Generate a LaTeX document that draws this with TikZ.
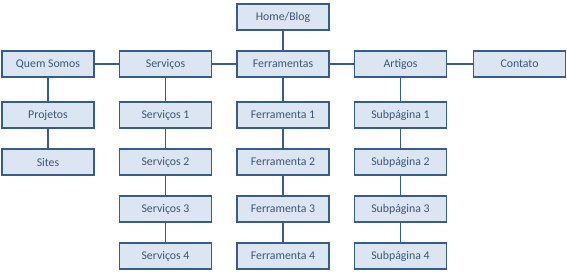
\documentclass[tikz,border=0pt]{standalone}
\usepackage{fontspec}
\setmainfont{Carlito}
\usepackage{xcolor}
\definecolor{boxfill}{RGB}{220,230,242}
\definecolor{boxline}{RGB}{56,93,138}
\definecolor{boxtext}{RGB}{58,86,122}
\tikzset{
    page/.style={draw=boxline, fill=boxfill, line width=1.8pt,
        minimum width=92pt, minimum height=26.5pt, inner sep=0pt,
        text=boxtext, font=\fontsize{11.8}{13}\selectfont},
    link/.style={draw=boxline, line width=1.8pt}
}

\begin{document}
\begin{tikzpicture}[x=1pt, y=-1pt]
    \useasboundingbox (0,0) rectangle (567,274);

    % topo
    \node[page] (home) at (283,17) {Home/Blog};

    % primeiro nivel
    \node[page] (quem) at (48,64)    {Quem Somos};
    \node[page] (serv) at (165.5,64) {Serviços};
    \node[page] (ferr) at (283,64)   {Ferramentas};
    \node[page] (art)  at (400.5,64) {Artigos};
    \node[page] (cont) at (519.5,64) {Contato};

    % Quem Somos
    \node[page] (proj)  at (48,115) {Projetos};
    \node[page] (sites) at (48,162) {Sites};

    % Serviços
    \node[page] (serv1) at (165.5,115) {Serviços 1};
    \node[page] (serv2) at (165.5,162) {Serviços 2};
    \node[page] (serv3) at (165.5,209) {Serviços 3};
    \node[page] (serv4) at (165.5,256) {Serviços 4};

    % Ferramentas
    \node[page] (ferr1) at (283,115) {Ferramenta 1};
    \node[page] (ferr2) at (283,162) {Ferramenta 2};
    \node[page] (ferr3) at (283,209) {Ferramenta 3};
    \node[page] (ferr4) at (283,256) {Ferramenta 4};

    % Artigos
    \node[page] (sub1) at (400.5,115) {Subpágina 1};
    \node[page] (sub2) at (400.5,162) {Subpágina 2};
    \node[page] (sub3) at (400.5,209) {Subpágina 3};
    \node[page] (sub4) at (400.5,256) {Subpágina 4};

    % ligacoes
    \draw[link] (home) -- (ferr);
    \draw[link] (quem) -- (serv);
    \draw[link] (serv) -- (ferr);
    \draw[link] (ferr) -- (art);
    \draw[link] (art) -- (cont);

    \draw[link] (quem) -- (proj);
    \draw[link] (proj) -- (sites);

    \draw[link] (serv) -- (serv1);
    \draw[link] (serv1) -- (serv2);
    \draw[link] (serv2) -- (serv3);
    \draw[link] (serv3) -- (serv4);

    \draw[link] (ferr) -- (ferr1);
    \draw[link] (ferr1) -- (ferr2);
    \draw[link] (ferr2) -- (ferr3);
    \draw[link] (ferr3) -- (ferr4);

    \draw[link] (art) -- (sub1);
    \draw[link] (sub1) -- (sub2);
    \draw[link] (sub2) -- (sub3);
    \draw[link] (sub3) -- (sub4);

\end{tikzpicture}
\end{document}
